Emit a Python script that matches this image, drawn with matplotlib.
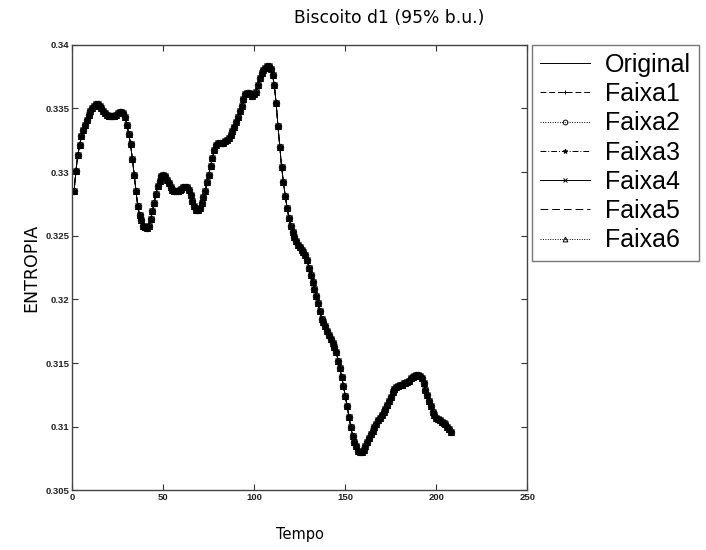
import matplotlib
matplotlib.use("Agg")
import matplotlib.pyplot as plt
import numpy as np

# Entropy over time (samples 1..208)
tempo = list(range(1, 209))
entropia = [
    # 1-20
    0.3285, 0.3301, 0.3313, 0.3321, 0.3328, 0.3333, 0.3337, 0.3341, 0.3345, 0.3348,
    0.3350, 0.3352, 0.3353, 0.3353, 0.3352, 0.3350, 0.3348, 0.3346, 0.3345, 0.3344,
    # 21-40
    0.3344, 0.3344, 0.3344, 0.3345, 0.3346, 0.3347, 0.3347, 0.3346, 0.3343, 0.3337,
    0.3330, 0.3322, 0.3310, 0.3298, 0.3285, 0.3273, 0.3266, 0.3262, 0.3258, 0.3257,
    # 41-60
    0.3256, 0.3258, 0.3263, 0.3269, 0.3276, 0.3283, 0.3289, 0.3293, 0.3297, 0.3298,
    0.3297, 0.3294, 0.3291, 0.3288, 0.3286, 0.3285, 0.3285, 0.3285, 0.3286, 0.3287,
    # 61-80
    0.3288, 0.3288, 0.3288, 0.3286, 0.3282, 0.3277, 0.3273, 0.3270, 0.3270, 0.3272,
    0.3276, 0.3280, 0.3285, 0.3292, 0.3298, 0.3305, 0.3311, 0.3317, 0.3321, 0.3323,
    # 81-100
    0.3323, 0.3323, 0.3323, 0.3324, 0.3325, 0.3327, 0.3329, 0.3332, 0.3335, 0.3339,
    0.3343, 0.3348, 0.3352, 0.3357, 0.3361, 0.3362, 0.3362, 0.3361, 0.3360, 0.3361,
    # 101-120
    0.3363, 0.3368, 0.3374, 0.3378, 0.3380, 0.3382, 0.3383, 0.3383, 0.3381, 0.3376,
    0.3368, 0.3354, 0.3336, 0.3320, 0.3304, 0.3292, 0.3281, 0.3272, 0.3264, 0.3258,
    # 121-140
    0.3253, 0.3249, 0.3246, 0.3243, 0.3241, 0.3239, 0.3237, 0.3235, 0.3231, 0.3225,
    0.3219, 0.3214, 0.3208, 0.3203, 0.3197, 0.3191, 0.3185, 0.3182, 0.3179, 0.3175,
    # 141-160
    0.3172, 0.3169, 0.3166, 0.3163, 0.3159, 0.3152, 0.3146, 0.3139, 0.3132, 0.3124,
    0.3116, 0.3108, 0.3100, 0.3093, 0.3088, 0.3085, 0.3081, 0.3080, 0.3080, 0.3082,
    # 161-180
    0.3085, 0.3088, 0.3091, 0.3094, 0.3097, 0.3100, 0.3102, 0.3105, 0.3107, 0.3109,
    0.3112, 0.3114, 0.3117, 0.3120, 0.3123, 0.3127, 0.3130, 0.3131, 0.3132, 0.3133,
    # 181-200
    0.3133, 0.3134, 0.3134, 0.3135, 0.3136, 0.3138, 0.3139, 0.3140, 0.3141, 0.3141,
    0.3140, 0.3138, 0.3134, 0.3129, 0.3125, 0.3120, 0.3116, 0.3112, 0.3109, 0.3107,
    # 201-208
    0.3106, 0.3105, 0.3104, 0.3103, 0.3102, 0.3100, 0.3098, 0.3096,
]

series_names = ["Original", "Faixa1", "Faixa2", "Faixa3", "Faixa4", "Faixa5", "Faixa6"]
line_styles = ["-", (0, (6, 3)), (0, (1, 1.5)), (0, (6, 2, 1, 2)), "-", (0, (8, 4)), (0, (1, 1.5))]
markers = [None, "+", "o", "*", "x", None, "^"]

x_ticks = [0, 50, 100, 150, 200, 250]
y_ticks = [0.305, 0.31, 0.315, 0.32, 0.325, 0.33, 0.335, 0.34]
y_ticklabels = ["0.305", "0.31", "0.315", "0.32", "0.325", "0.33", "0.335", "0.34"]

fig = plt.figure(figsize=(7.06, 5.5), dpi=100)
ax = fig.add_axes([0.1024, 0.1082, 0.6445, 0.8107])

for name, ls, mk in zip(series_names, line_styles, markers):
    ax.plot(tempo, entropia, color="black", linestyle=ls, linewidth=0.6,
            marker=mk, markersize=4.6, markeredgewidth=0.7,
            markerfacecolor="none", label=name)

ax.set_xlim(0, 250)
ax.set_ylim(0.305, 0.34)
ax.set_xticks(x_ticks)
ax.set_yticks(y_ticks)
ax.set_xticklabels([str(t) for t in x_ticks])
ax.set_yticklabels(y_ticklabels)
ax.tick_params(direction="in", length=4, width=0.8, colors="#333333",
               top=True, right=True, labelsize=6.8, pad=2)
for lbl in ax.get_xticklabels() + ax.get_yticklabels():
    lbl.set_fontfamily("Liberation Sans")
    lbl.set_fontweight("bold")
    lbl.set_color("#222222")
for sp in ax.spines.values():
    sp.set_color("#444444")
    sp.set_linewidth(1.0)

ax.set_xlabel("Tempo", fontsize=10.5, labelpad=18)
ax.set_ylabel("ENTROPIA", fontsize=12.5, labelpad=4)
fig.text(0.551, 0.968, "Biscoito d1 (95% b.u.)", fontsize=12.3, ha="center", va="center")

leg = ax.legend(loc="upper left", bbox_to_anchor=(1.0097, 1.0), borderaxespad=0,
                prop={"family": "Liberation Sans", "size": 18}, handlelength=2.0,
                handletextpad=0.6, labelspacing=0.21, borderpad=0.33,
                fancybox=False, frameon=True, markerscale=0.75)
leg.get_frame().set_edgecolor("#555555")
leg.get_frame().set_linewidth(1.0)
for h in leg.legend_handles:
    h.set_linewidth(0.7)

fig.savefig("out.png", dpi=100)
